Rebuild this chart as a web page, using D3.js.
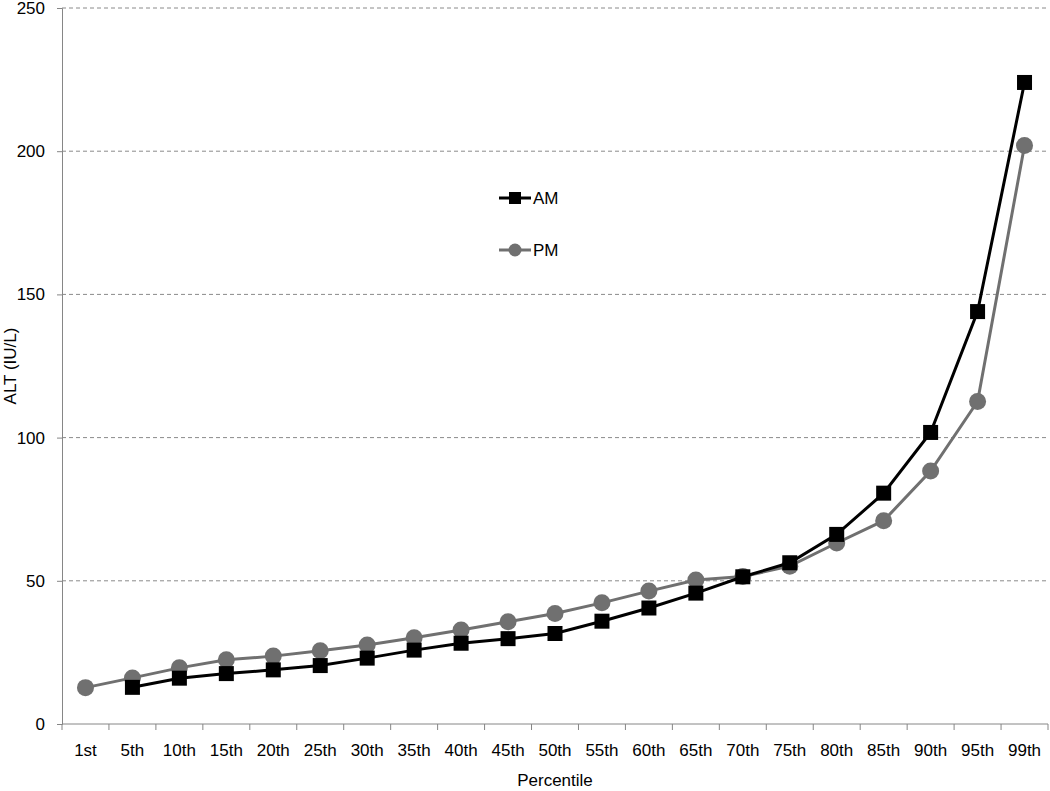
<!DOCTYPE html>
<html>
<head>
<meta charset="utf-8">
<script src="https://cdn.jsdelivr.net/npm/d3@7"></script>
<style>
  body { margin: 0; background: #fff; }
  text { font-family: "Liberation Sans", Arial, sans-serif; fill: #000; }
</style>
</head>
<body>
<div id="chart"></div>
<script>
var categories = ["1st", "5th", "10th", "15th", "20th", "25th", "30th", "35th", "40th", "45th",
  "50th", "55th", "60th", "65th", "70th", "75th", "80th", "85th", "90th", "95th", "99th"];
// AM has no 1st percentile value
var amValues = [null, 12.8, 16, 17.6, 18.9, 20.4, 23, 25.8, 28.2, 29.8,
  31.6, 35.9, 40.5, 45.7, 51.4, 56.3, 66.2, 80.6, 101.8, 144, 224];
var pmValues = [12.7, 16.1, 19.6, 22.4, 23.7, 25.6, 27.6, 30.1, 32.8, 35.7,
  38.6, 42.3, 46.4, 50.3, 51.5, 55.1, 63.2, 71, 88.3, 112.6, 202];
var yTicks = [0, 50, 100, 150, 200, 250];

var margin = { top: 8, right: 2, bottom: 67, left: 62 };
var svgWidth = 1050, svgHeight = 791;
var width = svgWidth - margin.left - margin.right;
var height = svgHeight - margin.top - margin.bottom;

var svg = d3.select("#chart").append("svg")
  .attr("width", svgWidth)
  .attr("height", svgHeight);

var g = svg.append("g")
  .attr("transform", "translate(" + margin.left + "," + margin.top + ")");

var x = d3.scaleBand().domain(categories).range([0, width]);
var y = d3.scaleLinear().domain([0, 250]).range([height, 0]);

// gridlines
g.selectAll(".grid").data(yTicks.filter(function (d) { return d > 0; }))
  .enter().append("line")
  .attr("x1", 0).attr("x2", width)
  .attr("y1", function (d) { return y(d); })
  .attr("y2", function (d) { return y(d); })
  .attr("stroke", "#8a8a8a")
  .attr("stroke-width", 1)
  .attr("stroke-dasharray", "4,3");

// y axis
var yAxis = d3.axisLeft(y).tickValues(yTicks).tickSize(5).tickPadding(12);
var yg = g.append("g").call(yAxis);
yg.select(".domain").attr("stroke", "#868686");
yg.selectAll(".tick line").attr("stroke", "#868686");
yg.selectAll(".tick text").style("font-size", "17px");

// x axis, ticks between categories
var xg = g.append("g").attr("transform", "translate(0," + height + ")");
xg.append("line").attr("x1", 0).attr("x2", width).attr("stroke", "#868686");
var bounds = categories.map(function (c) { return x(c); }).concat([width]);
xg.selectAll(".xt").data(bounds).enter().append("line")
  .attr("x1", function (d) { return d; }).attr("x2", function (d) { return d; })
  .attr("y1", 0).attr("y2", 6)
  .attr("stroke", "#868686");
xg.selectAll(".xl").data(categories).enter().append("text")
  .attr("x", function (d) { return x(d) + x.bandwidth() / 2; })
  .attr("y", 32)
  .attr("text-anchor", "middle")
  .style("font-size", "17px")
  .text(function (d) { return d; });

// axis titles
svg.append("text")
  .attr("x", margin.left + width / 2)
  .attr("y", 786)
  .attr("text-anchor", "middle")
  .style("font-size", "17px")
  .text("Percentile");
svg.append("text")
  .attr("transform", "translate(16," + (margin.top + height / 2) + ") rotate(-90)")
  .attr("text-anchor", "middle")
  .style("font-size", "17px")
  .text("ALT (IU/L)");

function cx(i) { return x(categories[i]) + x.bandwidth() / 2; }

var line = d3.line()
  .defined(function (d) { return d != null; })
  .x(function (d, i) { return cx(i); })
  .y(function (d) { return y(d); });

// PM series
g.append("path").datum(pmValues)
  .attr("fill", "none").attr("stroke", "#707070").attr("stroke-width", 3)
  .attr("d", line);
g.selectAll(".pm").data(pmValues).enter().append("circle")
  .attr("cx", function (d, i) { return cx(i); })
  .attr("cy", function (d) { return y(d); })
  .attr("r", 8.5)
  .attr("fill", "#707070");

// AM series
g.append("path").datum(amValues)
  .attr("fill", "none").attr("stroke", "#000").attr("stroke-width", 3)
  .attr("d", line);
g.selectAll(".am").data(amValues).enter().filter(function (d) { return d != null; })
  .append("rect")
  .attr("x", function (d) { return cx(amValues.indexOf(d)) - 7.5; })
  .attr("y", function (d) { return y(d) - 7.5; })
  .attr("width", 15).attr("height", 15)
  .attr("fill", "#000");

// legend
var legend = svg.append("g");
legend.append("line").attr("x1", 499).attr("x2", 531).attr("y1", 198).attr("y2", 198)
  .attr("stroke", "#000").attr("stroke-width", 3);
legend.append("rect").attr("x", 509).attr("y", 192).attr("width", 12).attr("height", 12).attr("fill", "#000");
legend.append("text").attr("x", 533).attr("y", 204).style("font-size", "17px").text("AM");
legend.append("line").attr("x1", 499).attr("x2", 531).attr("y1", 250).attr("y2", 250)
  .attr("stroke", "#707070").attr("stroke-width", 3);
legend.append("circle").attr("cx", 515).attr("cy", 250).attr("r", 6.5).attr("fill", "#707070");
legend.append("text").attr("x", 533).attr("y", 256).style("font-size", "17px").text("PM");
</script>
</body>
</html>
